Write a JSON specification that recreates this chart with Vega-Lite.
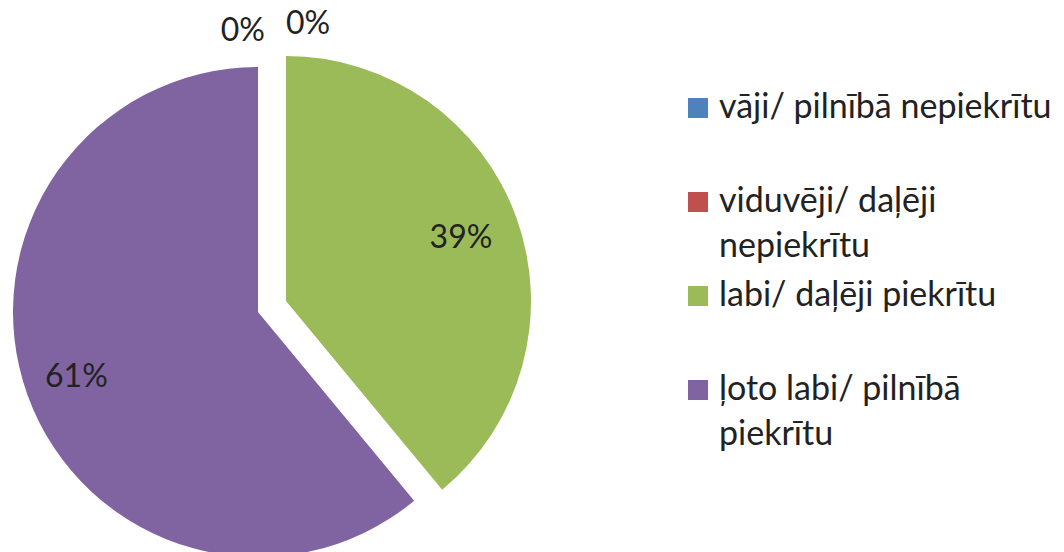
{
  "$schema": "https://vega.github.io/schema/vega-lite/v6.json",
  "width": 1064,
  "height": 552,
  "padding": 0,
  "autosize": {"type": "none"},
  "config": {"view": {"stroke": null}, "font": "Lato", "style": {"guide-label": {"lineHeight": 45}}},
  "data": {"values": [
    {"cat": "vāji/ pilnībā nepiekrītu", "value": 0, "label": "0%", "ord": 1},
    {"cat": "viduvēji/ daļēji nepiekrītu", "value": 0, "label": "0%", "ord": 2},
    {"cat": "labi/ daļēji piekrītu", "value": 39, "label": "39%", "ord": 3},
    {"cat": "ļoto labi/ pilnībā piekrītu", "value": 61, "label": "61%", "ord": 4}
  ]},
  "encoding": {
    "theta": {"field": "value", "type": "quantitative", "stack": true},
    "order": {"field": "ord", "type": "quantitative", "sort": "ascending"}
  },
  "layer": [
    {
      "mark": {"type": "arc", "x": 258, "y": 312, "outerRadius": 245},
      "encoding": {
        "color": {
          "field": "cat", "type": "nominal",
          "scale": {"domain": ["vāji/ pilnībā nepiekrītu", "viduvēji/ daļēji nepiekrītu", "labi/ daļēji piekrītu", "ļoto labi/ pilnībā piekrītu"],
                    "range": ["#4F81BD", "#C0504D", "#9BBB59", "#8064A2"]},
          "legend": {
            "orient": "none", "legendX": 681, "legendY": 91, "title": null,
            "symbolType": "square", "symbolSize": 400, "symbolStrokeWidth": 0, "symbolOpacity": 1,
            "labelFont": "Lato", "labelFontSize": 34, "labelColor": "#222", "labelLimit": 600, "labelOffset": 4,
            "rowPadding": 15,
            "labelExpr": "datum.label == 'viduvēji/ daļēji nepiekrītu' ? ['viduvēji/ daļēji', 'nepiekrītu'] : datum.label == 'ļoto labi/ pilnībā piekrītu' ? ['ļoto labi/ pilnībā', 'piekrītu'] : [datum.label, '']"
          }
        },
        "opacity": {"condition": {"test": "datum.ord == 4", "value": 1}, "value": 0}
      }
    },
    {
      "mark": {"type": "arc", "x": 286, "y": 301, "outerRadius": 245},
      "encoding": {
        "color": {"field": "cat", "type": "nominal"},
        "opacity": {"condition": {"test": "datum.ord == 3", "value": 1}, "value": 0}
      }
    },
    {
      "mark": {"type": "text", "x": 258, "y": 312, "radius": 193, "fontSize": 32, "font": "Lato"},
      "encoding": {
        "text": {"condition": {"test": "datum.ord == 4", "field": "label", "type": "nominal"}, "value": ""},
        "color": {"value": "#222"}
      }
    },
    {
      "mark": {"type": "text", "x": 286, "y": 301, "radius": 186, "fontSize": 32, "font": "Lato"},
      "encoding": {
        "text": {"condition": {"test": "datum.ord == 3", "field": "label", "type": "nominal"}, "value": ""},
        "color": {"value": "#222"}
      }
    },
    {
      "mark": {"type": "text", "x": 258, "y": 312, "radius": 281, "fontSize": 32, "font": "Lato", "align": "right", "dx": 7},
      "encoding": {
        "text": {"condition": {"test": "datum.ord == 1", "field": "label", "type": "nominal"}, "value": ""},
        "color": {"value": "#222"}
      }
    },
    {
      "mark": {"type": "text", "x": 286, "y": 301, "radius": 277, "fontSize": 32, "font": "Lato", "align": "left"},
      "encoding": {
        "text": {"condition": {"test": "datum.ord == 2", "field": "label", "type": "nominal"}, "value": ""},
        "color": {"value": "#222"}
      }
    }
  ]
}
